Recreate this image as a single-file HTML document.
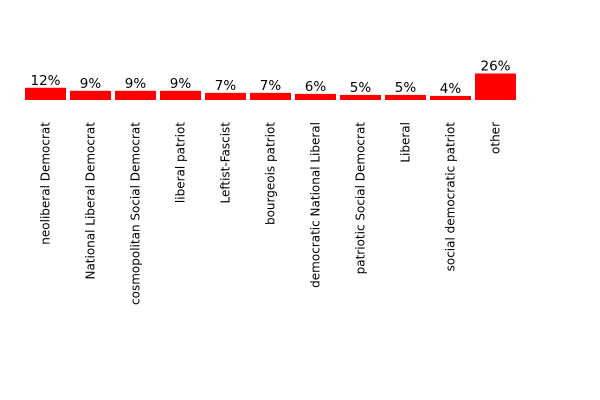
<!DOCTYPE html>
<html><head><meta charset="utf-8"><style>
body{margin:0;background:#fff}
svg{display:block;font-family:"DejaVu Sans","Liberation Sans",sans-serif}
</style></head><body>
<svg id="chart" width="600" height="400" viewBox="0 0 600 400"></svg>
<script>
const categories=["neoliberal Democrat","National Liberal Democrat","cosmopolitan Social Democrat","liberal patriot","Leftist-Fascist","bourgeois patriot","democratic National Liberal","patriotic Social Democrat","Liberal","social democratic patriot","other"];
const values=[12,9,9,9,7,7,6,5,5,4,26];
const valueLabels=["12%","9%","9%","9%","7%","7%","6%","5%","5%","4%","26%"];
const svg=document.getElementById('chart');
const NS='http://www.w3.org/2000/svg';
const baseY=100,x0=25,step=45,bw=41,pxPer=1.02;
function xPos(i){return x0+i*step;}
function yPos(v){return baseY-v*pxPer;}
categories.forEach((c,i)=>{
  const r=document.createElementNS(NS,'rect');
  
  
  r.setAttribute('x',xPos(i));r.setAttribute('y',yPos(values[i]));
  r.setAttribute('width',bw);r.setAttribute('height',baseY-yPos(values[i]));
  r.setAttribute('fill','#ff0000');
  svg.appendChild(r);
  const t=document.createElementNS(NS,'text');
  
  
  t.setAttribute('x',xPos(i)+bw/2);t.setAttribute('y',yPos(values[i])-3);
  t.setAttribute('text-anchor','middle');t.setAttribute('font-size','13.5');
  t.textContent=valueLabels[i];
  svg.appendChild(t);
  const l=document.createElementNS(NS,'text');
  
  
  const lx=xPos(i)+bw/2+4,ly=122;
  l.setAttribute('transform','translate('+lx+','+ly+') rotate(-90)');
  l.setAttribute('text-anchor','end');l.setAttribute('font-size','12');
  l.textContent=c;
  svg.appendChild(l);
});
</script>
</body></html>
